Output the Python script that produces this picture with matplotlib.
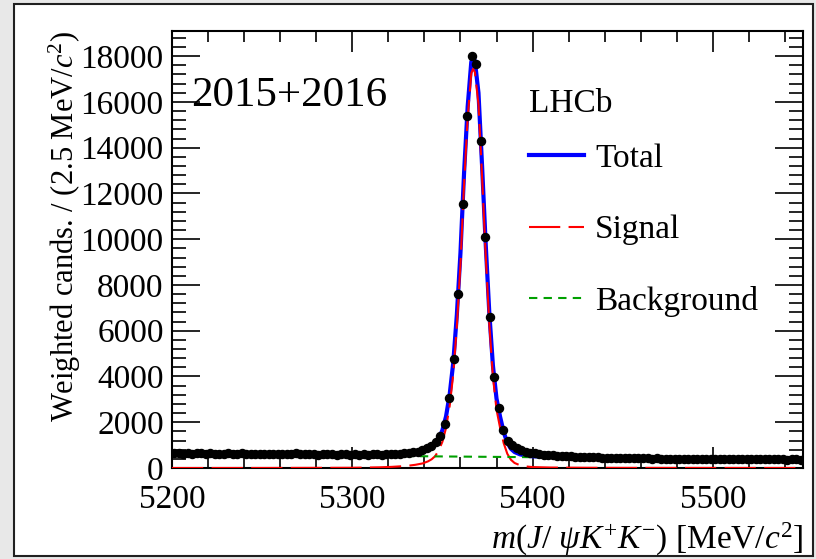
import numpy as np
import matplotlib
matplotlib.use("Agg")
import matplotlib.pyplot as plt
from matplotlib.lines import Line2D
from matplotlib.patches import Rectangle
from matplotlib.ticker import MultipleLocator

plt.rcParams['font.family'] = ['Liberation Serif', 'DejaVu Serif']
plt.rcParams['mathtext.fontset'] = 'custom'
plt.rcParams['mathtext.rm'] = 'Liberation Serif'
plt.rcParams['mathtext.it'] = 'Liberation Serif:italic'
plt.rcParams['mathtext.bf'] = 'Liberation Serif:bold'

# ---- data: bin centres (2.5 MeV bins) and weighted candidates ----
bin_lo = 5200.0
bin_width = 2.5
counts = [
    640, 655, 630, 645, 620, 650, 635, 610, 640, 625,
    630, 615, 640, 620, 610, 635, 625, 600, 630, 615,
    620, 605, 625, 610, 600, 630, 615, 640, 610, 600,
    620, 605, 590, 615, 600, 610, 585, 605, 595, 580,
    600, 590, 610, 585, 595, 605, 590, 600, 615, 610,
    630, 650, 665, 690, 720, 770,
    860, 960, 1130, 1400, 1920, 3050, 4780, 7600, 11550, 15400,
    18000, 17650, 14300, 10080, 6580, 3960, 2640, 1660, 1200, 1000,
    870, 770, 710, 670, 640, 610, 590, 570, 555, 540,
    530, 515, 505, 500, 490, 480, 475, 470, 460, 455,
    450, 445, 440, 445, 430, 435, 425, 430, 420, 425,
    415, 420, 410, 415, 405, 415, 400, 410, 405, 395,
    410, 400, 395, 405, 390, 400, 395, 385, 400, 390,
    380, 395, 390, 380, 395, 385, 375, 390, 380, 385,
    370, 385, 375, 370,
]
bin_centres = bin_lo + bin_width * (np.arange(len(counts)) + 0.5)

# ---- fit components ----
fit_x = [5200, 5250, 5300, 5315, 5322, 5330, 5335, 5339, 5342, 5344,
         5346, 5348, 5350, 5352, 5354, 5356, 5358, 5360, 5362, 5364,
         5366, 5367, 5368, 5370, 5372, 5374, 5376, 5378, 5380, 5382,
         5384, 5386, 5388, 5390, 5393, 5396, 5400, 5410, 5430, 5450,
         5500, 5550]
signal = [0, 2, 10, 30, 50, 90, 140, 200, 290, 380,
          520, 780, 1150, 1750, 2700, 4100, 6200, 8900, 12400, 15300,
          17250, 17450, 17300, 15900, 12700, 9300, 6300, 4000, 2550, 1750,
          1080, 620, 360, 220, 120, 70, 40, 20, 10, 6,
          3, 1]
background = [620, 584, 548, 535, 529, 522, 518, 514, 512, 510,
              508, 507, 505, 504, 502, 501, 500, 498, 497, 496,
              494, 493, 493, 492, 490, 489, 488, 486, 485, 484,
              482, 481, 480, 479, 477, 475, 472, 466, 455, 443,
              415, 390]
total = [s + b for s, b in zip(signal, background)]

x_ticks = [5200, 5300, 5400, 5500]
y_ticks = [0, 2000, 4000, 6000, 8000, 10000, 12000, 14000, 16000, 18000]

FS = 24
W, H = 816, 559
fig = plt.figure(figsize=(W / 100, H / 100), dpi=100)
fig.patch.set_facecolor('#e8e8e8')
frame = Rectangle((14 / W, 1 - 556 / H), (813 - 14) / W, (556 - 4) / H,
                  transform=fig.transFigure, facecolor='white',
                  edgecolor='#202020', linewidth=1.5, zorder=-5)
fig.patches.append(frame)

ax = fig.add_axes([172 / W, 1 - 468 / H, (803 - 172) / W, (468 - 31) / H])
ax.set_zorder(1)
ax.set_facecolor('white')

ax.plot(fit_x, total, color='#0000ff', lw=3.0, zorder=2)
ax.plot(fit_x, signal, color='#ff0000', lw=1.5, dashes=(15, 4), zorder=3)
ax.plot(fit_x, background, color='#00a000', lw=1.5, dashes=(4, 3), zorder=3)
ax.plot(bin_centres, counts, 'o', color='black', markersize=5.8, zorder=4)

ax.set_xlim(5200, 5550)
ax.set_ylim(0, 19100)
ax.set_xticks(x_ticks)
ax.set_yticks(y_ticks)
ax.xaxis.set_minor_locator(MultipleLocator(20))
ax.yaxis.set_minor_locator(MultipleLocator(400))
ax.tick_params(which='both', direction='in', top=True, right=True,
               labelsize=FS, width=1.2, colors='black')
ax.tick_params(axis='y', which='major', length=20, pad=6)
ax.tick_params(axis='x', which='major', length=15, pad=12)
ax.tick_params(axis='y', which='minor', length=10)
ax.tick_params(axis='x', which='minor', length=8)
for sp in ax.spines.values():
    sp.set_linewidth(1.5)

ax.set_ylabel(r'Weighted cands. / (2.5 MeV/$c^{2}$)', fontsize=22, ha='right')
ax.yaxis.set_label_coords(-0.141, 1.0)
ax.set_xlabel(r'$m(J/\ \psi K^{+}K^{-})$ [MeV/$c^{2}$]', fontsize=FS, ha='right')
ax.xaxis.set_label_coords(1.0, -0.122)

ax.text(0.03, 0.852, '2015+2016', transform=ax.transAxes, fontsize=31,
        va='center', ha='left')
ax.text(0.565, 0.834, 'LHCb', transform=ax.transAxes, fontsize=FS,
        va='center', ha='left')

handles = [Line2D([], [], color='#0000ff', lw=3.0),
           Line2D([], [], color='#ff0000', lw=1.5, dashes=(15, 4)),
           Line2D([], [], color='#00a000', lw=1.5, dashes=(4, 3))]
ax.legend(handles, ['Total', 'Signal', 'Background'], loc='upper left',
          bbox_to_anchor=(0.545, 0.773), frameon=False, fontsize=FS,
          handlelength=1.65, handletextpad=0.32, labelspacing=1.22,
          borderaxespad=0)

fig.savefig('out.png', dpi=100, facecolor=fig.get_facecolor())
